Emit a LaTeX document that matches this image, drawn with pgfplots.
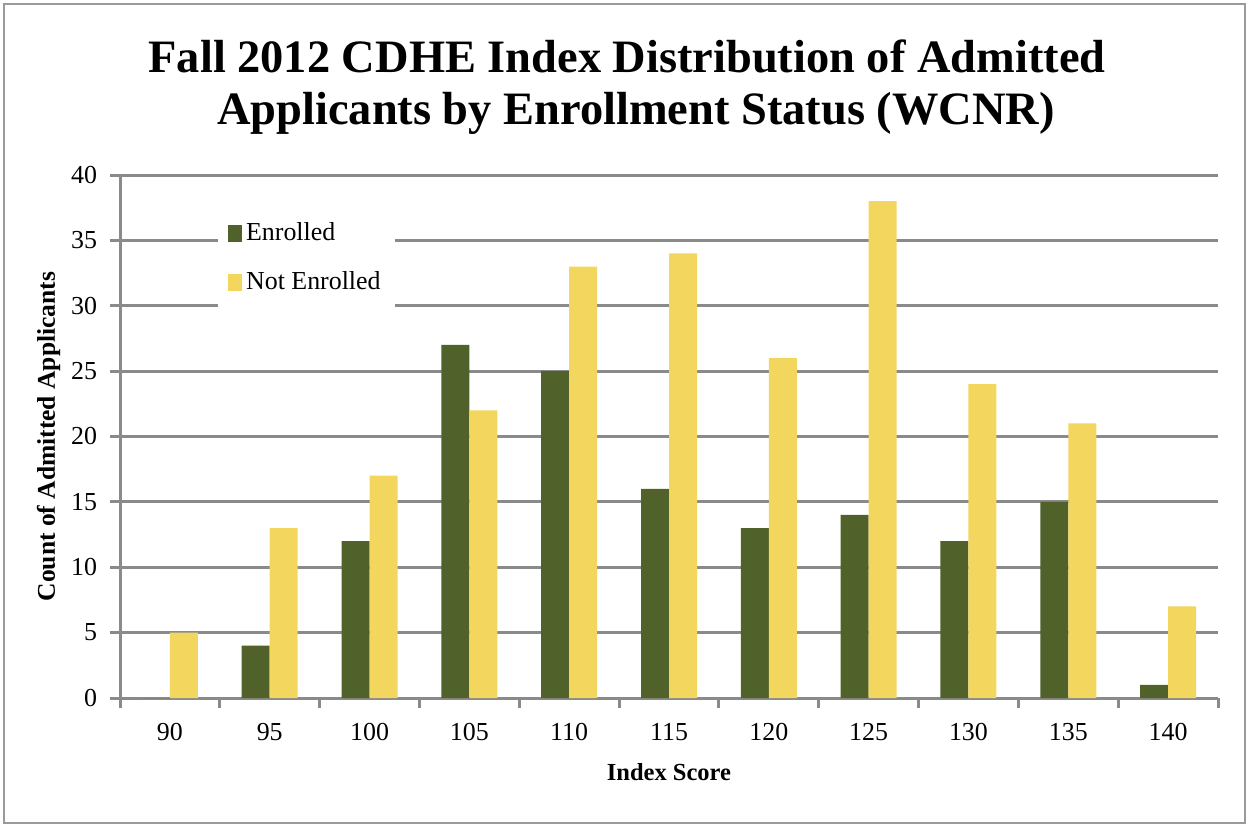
\documentclass[border=0pt]{standalone}
\usepackage{pgfplots}
\pgfplotsset{compat=1.18}
\usepackage{fontspec}
\setmainfont{Liberation Serif}
\definecolor{enr}{HTML}{506129}
\definecolor{nenr}{HTML}{F3D65E}
\definecolor{gridc}{HTML}{8A8A8A}
\definecolor{framec}{HTML}{9A9A9A}
\begin{document}
\begin{tikzpicture}
\path[use as bounding box] (0,0) rectangle (623.5bp,-412.5bp);
\draw[framec, line width=1.2bp] (2bp,-2bp) rectangle (622.5bp,-411.5bp);
\node[anchor=base, font=\fontsize{23.3}{27}\selectfont\bfseries] at (313.5bp,-36bp) {Fall 2012 CDHE Index Distribution of Admitted};
\node[anchor=base, font=\fontsize{23.3}{27}\selectfont\bfseries] at (318bp,-62bp) {Applicants by Enrollment Status (WCNR)};
\begin{axis}[
  at={(60bp,-349bp)}, anchor=south west,
  scale only axis, width=549bp, height=261.5bp,
  ybar=0pt, bar width=14bp,
  xmin=-0.5, xmax=10.5, ymin=0, ymax=40,
  xtick={-0.5,0.5,...,10.5},
  xticklabels={90,95,100,105,110,115,120,125,130,135,140},
  x tick label as interval,
  ytick={0,5,...,40},
  axis x line=bottom, axis y line=left,
  axis line style={-, gridc, line width=1.5bp},
  tick style={gridc, line width=1.5bp},
  major tick length=5bp,
  tick align=outside,
  ymajorgrids,
  grid style={gridc, line width=1.5bp},
  /pgf/number format/assume math mode=true,
  ticklabel style={font=\fontsize{13}{15}\selectfont},
  xticklabel style={yshift=-4bp},
  yticklabel style={xshift=-3bp},
  xlabel={Index Score},
  ylabel={Count of Admitted Applicants},
  xlabel style={font=\fontsize{12.3}{14}\selectfont\bfseries, yshift=-4.5bp},
  ylabel style={font=\fontsize{12.8}{14}\selectfont\bfseries, yshift=-1.5bp},
  legend style={at={(rel axis cs:0.089,0.955)}, anchor=north west, draw=none, fill=white,
    font=\fontsize{13}{15}\selectfont, row sep=10bp, inner xsep=5bp, inner ysep=10bp},
  legend cell align=left,
]
\addplot[fill=enr, draw=none, legend image code/.code={\fill[enr] (0bp,-4.5bp) rectangle (7bp,4bp);}]
  coordinates {(0,0) (1,4) (2,12) (3,27) (4,25) (5,16) (6,13) (7,14) (8,12) (9,15) (10,1)};
\addplot[fill=nenr, draw=none, legend image code/.code={\fill[nenr] (0bp,-4.5bp) rectangle (7bp,4bp);}]
  coordinates {(0,5) (1,13) (2,17) (3,22) (4,33) (5,34) (6,26) (7,38) (8,24) (9,21) (10,7)};
\legend{Enrolled, Not Enrolled\hspace{8bp}}
\end{axis}
\end{tikzpicture}
\end{document}
